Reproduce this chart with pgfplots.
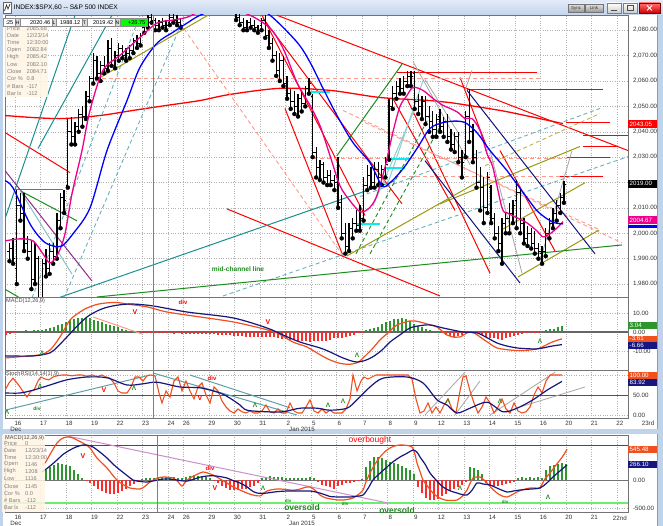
\documentclass[border=0pt]{standalone}
\usepackage{fontspec}
\setmainfont{Liberation Sans}
\usepackage{pgfplots}
\pgfplotsset{compat=1.18}
\usepackage{pgfplotstable}

\definecolor{winframe}{HTML}{BFD3EA}
\definecolor{titletop}{HTML}{E2EBF7}
\definecolor{titlebot}{HTML}{C3D5EC}
\definecolor{macdo}{HTML}{F0501E}
\definecolor{macdn}{HTML}{16167E}
\definecolor{histg}{HTML}{2E962E}
\definecolor{histr}{HTML}{FF2A2A}
\definecolor{tealc}{HTML}{1A9090}
\definecolor{tealdash}{HTML}{6AB2BA}
\definecolor{salmon}{HTML}{FF9A8A}
\definecolor{olivec}{HTML}{9A9A10}
\definecolor{navyc}{HTML}{12127F}
\definecolor{dgreen}{HTML}{1E8C1E}
\definecolor{purp}{HTML}{8E2A8E}
\definecolor{cursorc}{HTML}{7878B0}
\definecolor{infobg}{HTML}{FFF5E4}
\definecolor{oversold}{HTML}{6CEE6C}
\definecolor{cyanc}{HTML}{10E8F0}
\definecolor{lavender}{HTML}{CC8FCC}
\definecolor{paleteal}{HTML}{8CCFD0}

\newcommand\tf{\fontsize{6.2}{7}\selectfont}
\newcommand\smf{\fontsize{5.6}{6}\selectfont}
\newcommand\lam{\bfseries\fontsize{6.5}{6}\selectfont}
\def\daygrid{15,40.5,66,91.5,117,142.5,168,183.3,208.8,234.3,259.8,285.3,310.8,336.3,361.8,387.3,412.8,438.3,463.8,489.3,514.8,540.3,565.8,591.3,616.8}

\pgfplotsset{
  pane/.style={scale only axis, width=623pt, xmin=5, xmax=628, anchor=south west,
    clip mode=individual,
    axis line style={draw=black!55, line width=0.7pt},
    xtick=\daygrid, xticklabels={},
    grid=major, grid style={dotted, black!30, line width=0.5pt},
    major tick length=0pt, tick style={draw=none},
    extra y tick labels={}, extra y tick style={grid=major},
    yticklabel pos=right,
    yticklabel style={anchor=west, xshift=1.5pt, font=\tf, text=black!80},
    /pgf/number format/fixed, /pgf/number format/fixed zerofill,
    /pgf/number format/precision=2, /pgf/number format/assume math mode=true},
  datelabels/.style={xticklabel style={font=\tf, xshift=3pt, text=black!80}},
  tl/.style={line width=1pt, forget plot},
  dl/.style={line width=0.9pt, dash pattern=on 4pt off 3pt, forget plot},
}
\tikzset{vbox/.style={anchor=west, text=white, font=\tf, inner xsep=1.5pt, inner ysep=0pt, minimum height=7pt, text width=26pt}}

\pgfdeclareplotmark{otick}{\pgfpathmoveto{\pgfqpoint{-2.1pt}{0pt}}\pgfpathlineto{\pgfqpoint{0pt}{0pt}}\pgfusepathqstroke}
\pgfdeclareplotmark{ctick}{\pgfpathmoveto{\pgfqpoint{0pt}{0pt}}\pgfpathlineto{\pgfqpoint{2.1pt}{0pt}}\pgfusepathqstroke}

% hourly OHLC bars, x = time position
\pgfplotstableread[row sep=\\]{
x o h l c\\
9.5 1993 1996 1989 1994\\ 13.1 1994 1998 1988 1990\\
16.8 1986 2017 1980 2011\\ 20.4 2011 2016 2005 2008\\ 24.1 2008 2016 1993 1996\\ 27.7 1996 1999 1990 1993\\ 31.4 1993 1997 1978 1982\\ 35.0 1982 1996 1980 1990\\ 38.6 1990 1991 1972 1973\\
42.3 1974 1990 1973 1988\\ 45.9 1988 1994 1983 1986\\ 49.6 1986 1996 1984 1993\\ 53.2 1993 1996 1988 1991\\ 56.9 1991 2008 1990 2005\\ 60.5 2005 2016 2002 2014\\ 64.1 2014 2017 2008 2013\\
67.8 2019 2045 2018 2040\\ 71.4 2040 2046 2035 2038\\ 75.1 2038 2044 2035 2042\\ 78.7 2042 2049 2040 2047\\ 82.4 2047 2050 2042 2046\\ 86.0 2046 2056 2045 2054\\ 89.6 2054 2062 2052 2061\\
93.3 2061 2071 2059 2068\\ 96.9 2068 2070 2061 2063\\ 100.6 2063 2068 2060 2066\\ 104.2 2066 2070 2063 2065\\ 107.9 2065 2076 2064 2073\\ 111.5 2073 2077 2066 2068\\ 115.1 2068 2072 2065 2070\\
118.8 2070 2075 2068 2073\\ 122.4 2073 2074 2069 2070\\ 126.1 2070 2073 2068 2071\\ 129.7 2071 2074 2069 2072\\ 133.4 2072 2077 2071 2076\\ 137.0 2076 2078 2073 2075\\ 140.6 2075 2079 2074 2078\\
144.3 2081 2084 2079 2083\\ 147.9 2083 2086 2081 2085\\ 151.6 2085 2087 2083 2084\\ 155.2 2084 2085 2080 2082\\ 158.9 2082 2084 2080 2083\\ 162.5 2083 2085 2081 2082\\ 166.1 2082 2084 2080 2082\\
169.8 2083 2087 2082 2085\\ 173.4 2085 2087 2083 2084\\ 177.1 2084 2086 2082 2083\\ 180.7 2083 2085 2081 2082\\
185.1 2087 2090 2086.5 2089\\ 188.7 2089 2091 2087 2090\\ 192.4 2090 2092 2088 2091\\ 196.0 2091 2093 2089 2091\\ 199.7 2091 2092 2088 2090\\ 203.3 2090 2091 2088 2089\\ 206.9 2089 2090 2087 2089\\
210.6 2088 2090 2087 2089\\ 214.2 2089 2092 2088 2091\\ 217.9 2091 2093 2089 2092\\ 221.5 2092 2094 2090 2091\\ 225.2 2091 2092 2089 2090\\ 228.8 2090 2092 2089 2091\\ 232.4 2091 2092 2089 2091\\
236.1 2088 2089 2084 2085\\ 239.7 2085 2087 2082 2083\\ 243.4 2083 2085 2080 2081\\ 247.0 2081 2084 2080 2083\\ 250.7 2083 2085 2081 2082\\ 254.3 2082 2084 2080 2081\\ 257.9 2081 2082 2079 2080\\
261.6 2082 2085 2080 2084\\ 265.2 2084 2086 2077 2078\\ 268.9 2078 2080 2073 2075\\ 272.5 2075 2077 2068 2070\\ 276.2 2070 2072 2062 2064\\ 279.8 2064 2071 2060 2068\\ 283.4 2068 2070 2058 2059\\
287.1 2059 2062 2053 2055\\ 290.7 2055 2057 2049 2052\\ 294.4 2052 2056 2047 2050\\ 298.0 2050 2055 2046 2053\\ 301.7 2053 2056 2048 2051\\ 305.3 2051 2058 2050 2057\\ 308.9 2057 2061 2055 2059\\
312.6 2054 2055 2030 2032\\ 316.2 2032 2034 2022 2026\\ 319.9 2026 2029 2021 2027\\ 323.5 2027 2028 2020 2022\\ 327.2 2022 2025 2019 2023\\ 330.8 2023 2025 2019 2021\\ 334.4 2021 2023 2017 2020\\
338.1 2022 2030 2010 2012\\ 341.7 2012 2015 1998 2000\\ 345.4 2000 2004 1992 1995\\ 349.0 1995 2004 1993 2002\\ 352.7 2002 2006 1998 2004\\ 356.3 2004 2009 2001 2003\\ 359.9 2003 2011 2001 2006\\
363.6 2006 2022 2005 2019\\ 367.2 2019 2027 2017 2023\\ 370.9 2023 2026 2018 2020\\ 374.5 2020 2028 2018 2025\\ 378.2 2025 2028 2019 2022\\ 381.8 2022 2027 2019 2025\\ 385.4 2025 2030 2022 2027\\
389.1 2030 2053 2029 2050\\ 392.7 2050 2058 2049 2055\\ 396.4 2055 2060 2053 2058\\ 400.0 2058 2061 2055 2057\\ 403.7 2057 2062 2055 2060\\ 407.3 2060 2064 2058 2062\\ 410.9 2062 2064 2058 2062\\
414.6 2063 2064 2049 2052\\ 418.2 2052 2055 2047 2050\\ 421.9 2050 2054 2045 2052\\ 425.5 2052 2054 2043 2046\\ 429.2 2046 2050 2040 2044\\ 432.8 2044 2048 2038 2041\\ 436.4 2041 2047 2038 2045\\
440.1 2046 2049 2040 2042\\ 443.7 2042 2046 2038 2044\\ 447.4 2044 2047 2036 2038\\ 451.0 2038 2041 2033 2035\\ 454.7 2035 2040 2032 2038\\ 458.3 2038 2040 2028 2030\\ 461.9 2030 2033 2022 2028\\
465.6 2031 2048 2030 2046\\ 469.2 2046 2057 2036 2040\\ 472.9 2040 2043 2028 2030\\ 476.5 2030 2033 2018 2020\\ 480.2 2020 2026 2009 2018\\ 483.8 2018 2022 2004 2010\\ 487.4 2010 2024 2008 2022\\
491.1 2018 2019 2004 2006\\ 494.7 2006 2008 1998 2000\\ 498.4 2000 2003 1993 1996\\ 502.0 1996 2006 1988 2004\\ 505.7 2004 2008 2000 2006\\ 509.3 2006 2012 2000 2008\\ 512.9 2008 2013 2004 2011\\
516.6 2013 2021 2002 2016\\ 520.2 2016 2018 2000 2004\\ 523.9 2004 2006 1996 1998\\ 527.5 1998 2003 1995 2000\\ 531.2 2000 2002 1994 1996\\ 534.8 1996 2001 1992 1994\\ 538.4 1994 1996 1990 1993\\
542.1 1992 1995 1988 1993\\ 545.7 1993 2002 1991 2000\\ 549.4 2000 2006 1998 2004\\ 553.0 2004 2010 2002 2008\\ 556.7 2008 2013 2005 2011\\ 560.3 2011 2016 2008 2014\\ 563.9 2014 2020.5 2012 2019.4\\
}\bars

\pgfplotstableread[row sep=\\]{
x y\\
6 -1.5\\10 -1.2\\14 -0.5\\18 0.5\\22 0.6\\26 0.8\\30 0.6\\34 0.8\\38 1\\42 1\\46 1.5\\50 2.2\\54 2.8\\58 3.6\\62 4.4\\66 5.2\\70 6.2\\74 6.8\\78 7.5\\82 7.6\\86 7.4\\90 7.2\\94 6.4\\98 5.8\\102 5\\106 4.4\\110 3.6\\114 3\\118 2.4\\122 1.8\\126 1.2\\130 0.6\\134 0.2\\138 -0.3\\142 -0.5\\146 -0.6\\150 -0.6\\154 -0.7\\158 -0.6\\162 -0.8\\166 -0.8\\170 -0.7\\174 -0.9\\178 -0.8\\182 -1\\186 -1\\190 -0.9\\194 -1\\198 -1.1\\202 -1\\206 -1.2\\210 -1.2\\214 -1.3\\218 -1.4\\222 -1.5\\226 -1.6\\230 -1.8\\234 -2\\238 -2.1\\242 -2.2\\246 -2.4\\250 -2.5\\254 -2.6\\258 -2.4\\262 -2.6\\266 -2.8\\270 -2.6\\274 -2.9\\278 -3.2\\282 -3.5\\286 -3.8\\290 -4\\294 -4.4\\298 -4.6\\302 -4.8\\306 -5\\310 -5.2\\314 -5\\318 -4.8\\322 -5\\326 -4.6\\330 -4\\334 -3.4\\338 -3.2\\342 -3\\346 -2.6\\350 -2.2\\354 -1.4\\358 -0.8\\362 -0.2\\366 0.8\\370 1.6\\374 2.2\\378 2.8\\382 4\\386 5\\390 5.8\\394 6.6\\398 7\\402 7.2\\406 6.6\\410 5.6\\414 4\\418 3\\422 2.4\\426 1.6\\430 1\\434 0.6\\438 0.2\\442 -0.8\\446 -1.4\\450 -2\\454 -2.4\\458 -2.2\\462 -1.6\\466 -0.4\\470 0.3\\474 0.5\\478 -0.6\\482 -1.6\\486 -2.4\\490 -3\\494 -3.4\\498 -3.8\\502 -4\\506 -3.4\\510 -2.8\\514 -2\\518 -1.4\\522 -1\\526 -0.8\\530 -0.6\\534 -0.4\\538 -0.2\\542 0.3\\546 0.8\\550 1.4\\554 1.8\\558 2.4\\562 3\\
}\hup

\pgfplotstableread[row sep=\\]{
x y\\
46 180\\50 230\\54 270\\58 300\\62 290\\66 270\\70 240\\74 180\\78 110\\82 40\\86 -20\\90 -60\\94 -110\\98 -160\\102 -200\\106 -230\\110 -240\\114 -240\\118 -220\\122 -190\\126 -150\\130 -110\\134 -70\\138 -40\\142 20\\146 35\\150 40\\154 30\\158 50\\162 55\\166 50\\170 55\\174 45\\178 30\\182 40\\186 55\\190 70\\194 80\\198 75\\202 70\\206 60\\210 40\\214 -20\\218 -60\\222 -100\\226 -140\\230 -170\\234 -180\\238 -175\\242 -160\\246 -150\\250 -130\\254 -100\\258 -60\\262 40\\266 60\\270 65\\274 55\\278 60\\282 45\\286 40\\290 35\\294 40\\298 35\\302 30\\306 40\\310 55\\314 30\\318 -40\\322 -80\\326 -110\\330 -130\\334 -150\\338 -110\\342 -80\\346 -60\\350 -50\\354 -40\\358 -20\\362 20\\366 230\\370 330\\374 400\\378 400\\382 380\\386 350\\390 320\\394 300\\398 280\\402 250\\406 220\\410 180\\414 100\\418 -120\\422 -220\\426 -310\\430 -350\\434 -350\\438 -340\\442 -290\\446 -240\\450 -200\\454 -150\\458 -120\\462 -80\\466 -30\\470 230\\474 220\\478 180\\482 100\\486 -60\\490 -90\\494 -110\\498 -110\\502 -90\\506 -70\\510 -50\\514 -30\\518 40\\522 50\\526 40\\530 45\\534 40\\538 50\\542 30\\546 180\\550 250\\554 270\\558 290\\562 300\\566 290\\
}\hlo

\begin{document}
\begin{tikzpicture}
\begin{scope}[x=1pt,y=1pt]
% window chrome
\fill[winframe] (0,0) rectangle (663,526);
\shade[top color=titletop,bottom color=titlebot] (0,511) rectangle (663,526);
\fill[white,draw=black!60] (3,513) rectangle (11,524);
\draw[black!80,line width=0.7pt] (4.5,515)--(6.5,521)--(8,517)--(10,522);
\node[anchor=west,inner sep=0,font=\fontsize{6.6}{8}\selectfont] at (13.5,518.5) {INDEX:\$SPX,60 -{}- S\&P 500 INDEX};
\shade[top color=black!10,bottom color=black!40,draw=black!55] (568,514) rectangle (584,522);
\node[font=\fontsize{4.5}{5}\selectfont,inner sep=0,text=black!80] at (576,518) {Sync};
\shade[top color=black!10,bottom color=black!40,draw=black!55] (585,514) rectangle (603,522);
\node[font=\fontsize{4.5}{5}\selectfont,inner sep=0,text=black!80] at (594,518) {Link};
\shade[top color=white,bottom color=black!20,draw=black!50] (607,513) rectangle (621,523);
\draw[black!70,line width=0.8pt] (611,516)--(617,516);
\shade[top color=white,bottom color=black!20,draw=black!50] (623,513) rectangle (637,523);
\draw[black!70] (627,515.5) rectangle (633,520.5);
\shade[top color=red!55,bottom color=red!80!black,draw=red!50!black] (639,513) rectangle (660,523);
\draw[white,line width=1pt] (647,515.5)--(652,520.5) (647,520.5)--(652,515.5);
\fill[white] (3,97) rectangle (658,511);
\fill[white] (3,0) rectangle (658,92);
\end{scope}

% ---------------- price pane ----------------
\begin{axis}[pane, at={(5pt,229pt)}, height=282pt, ymin=1974.9, ymax=2086,
  ytick={1980,1990,2000,2010,2030,2040,2050,2060,2070,2080}, extra y ticks={2020}]
\addplot[red, line width=1.3pt, smooth, forget plot] coordinates {(5,2046.4)(33,2045.6)(63,2045.2)(100,2046.4)(133,2048.4)(167,2050.4)(200,2052.3)(230,2054.7)(280,2057.1)(330,2056.3)(380,2053.5)(430,2052.3)(450,2051.5)(500,2048.4)(530,2046.0)(563,2043.2)};
% trend lines
\addplot[tl, red] coordinates {(5,2039.7)(70,2023.9)};
\addplot[tl, red!80, line width=1.4pt] coordinates {(13,2017.2)(63,2017.2)};
\addplot[tl, red] coordinates {(227,2009.6)(440,1975.3)};
\addplot[tl, red] coordinates {(262,2085.9)(365,2007.0)};
\addplot[tl, red] coordinates {(263,2084.7)(402,2011.6)};
\addplot[tl, red] coordinates {(285,2049.2)(343,1991.1)};
\addplot[tl, red] coordinates {(277,2085.9)(628,2032.6)};
\addplot[tl, red] coordinates {(393,2053.0)(455,2009.0)};
\addplot[tl, red] coordinates {(407,2053.0)(490,1984.3)};
\addplot[tl, red] coordinates {(460,2061.4)(487,2033.8)};
\addplot[tl, red] coordinates {(500,2032.6)(555,1993.0)};
\addplot[tl, red] coordinates {(397,2063.4)(537,2063.4)};
\addplot[tl, red] coordinates {(467,2056.7)(603,2056.7)};
\addplot[tl, red] coordinates {(566,2043.6)(610,2043.6)};
\addplot[tl, red] coordinates {(583,2038.5)(628,2038.5)};
\addplot[tl, red] coordinates {(583,2034.2)(618,2034.2)};
\addplot[tl, red] coordinates {(567,2029.8)(610,2029.8)};
\addplot[tl, red] coordinates {(560,2022.3)(603,2022.3)};
\addplot[dl, salmon] coordinates {(95,2061.0)(540,2061.0)};
\addplot[dl, salmon] coordinates {(180,2082.8)(343,1991.1)};
\addplot[dl, salmon] coordinates {(313,2029.6)(567,2029.6)};
\addplot[dl, salmon] coordinates {(395,2022.3)(560,2022.3)};
\addplot[dl, salmon] coordinates {(343,2048.4)(622,1996.2)};
\addplot[dl, salmon] coordinates {(365,2043.6)(600,2001.3)};
\addplot[tl, tealc] coordinates {(5,2005.7)(75,2085.9)};
\addplot[tl, tealc] coordinates {(38,2033.4)(112,2085.9)};
\addplot[tl, tealc] coordinates {(58,1974.5)(395,2020.7)};
\addplot[dl, tealdash] coordinates {(223,1975.3)(628,2030.2)};
\addplot[dl, tealdash] coordinates {(360,2014.5)(600,2049.2)};
\addplot[dl, tealdash] coordinates {(32,1974.5)(140,2085.9)};
\addplot[dl, tealdash] coordinates {(64,1974.5)(185,2085.9)};
\addplot[tl, paleteal] coordinates {(373,2010.8)(415,2049.2)};
\addplot[tl, paleteal] coordinates {(388,2019.9)(423,2060.2)};
\addplot[tl, olivec] coordinates {(95,2060.2)(208,2085.9)};
\addplot[tl, olivec] coordinates {(347,1991.1)(480,2020.7)};
\addplot[tl, olivec] coordinates {(440,2011.6)(580,2034.2)};
\addplot[tl, olivec] coordinates {(503,2001.7)(585,2019.9)};
\addplot[tl, olivec] coordinates {(518,1982.8)(599,2001.3)};
\addplot[dl, olivec!70] coordinates {(485,2026.6)(600,2047.2)};
\addplot[tl, navyc] coordinates {(467,2056.3)(595,1991.9)};
\addplot[tl, navyc] coordinates {(425,2028.6)(520,1980.4)};
\addplot[tl, black!35, line width=0.8pt] coordinates {(465,2056.3)(472,2064.2)};
\addplot[tl, black!35, line width=0.8pt] coordinates {(490,2032.6)(522,1984.3)};
\addplot[tl, black!35, line width=0.8pt] coordinates {(540,1989.1)(572,2032.6)};
\addplot[tl, black!35, line width=0.8pt] coordinates {(413,2067.7)(470,2027.0)};
\addplot[tl, black!35, line width=0.8pt] coordinates {(425,2060.6)(460,2038.5)};
\addplot[tl, dgreen] coordinates {(97,1974.9)(622,1995.4)};
\addplot[tl, dgreen] coordinates {(20,2016.8)(77,2004.9)};
\addplot[tl, dgreen] coordinates {(3,1978.4)(20,1974.5)};
\addplot[tl, dgreen] coordinates {(337,2030.6)(402,2066.6)};
\addplot[dl, dgreen] coordinates {(356,1991.9)(430,2046.4)};
\addplot[dl, dgreen] coordinates {(370,1991.9)(440,2042.0)};
\addplot[tl, purp] coordinates {(5,2024.7)(92,1981.2)};
\addplot[tl, tealdash!80] coordinates {(20,2016.8)(72,1983.9)};
\addplot[tl, cyanc, line width=2pt] coordinates {(357,2003.7)(380,2003.7)};
\addplot[tl, cyanc, line width=2pt] coordinates {(387,2029.4)(410,2029.4)};
\addplot[tl, cyanc, line width=2pt] coordinates {(385,2025.8)(405,2025.8)};
\addplot[tl, cyanc, line width=2pt] coordinates {(308,2055.5)(330,2055.5)};
% OHLC bars
\addplot[only marks, mark=none, forget plot, error bars/.cd, y dir=plus, y explicit,
  error mark=none, error bar style={line width=1.3pt, draw=black, solid}]
  table[x=x, y=l, y error plus expr=\thisrow{h}-\thisrow{l}] {\bars};
\addplot[only marks, mark=otick, mark options={line width=0.8pt, black}, forget plot] table[x=x, y=o] {\bars};
\addplot[only marks, mark=ctick, mark options={line width=0.8pt, black}, forget plot] table[x=x, y=c] {\bars};
% moving averages
\addplot[magenta, line width=1.3pt, smooth, forget plot] coordinates {(5,1997.0)(20,1997.8)(33,1997.0)(43,1991.9)(50,1988.3)(58,1991.9)(65,1999.8)(72,2015.6)(82,2032.6)(90,2048.4)(103,2064.2)(120,2070.1)(140,2077.2)(157,2082.8)(173,2084.0)(187,2085.1)(200,2087.1)(230,2087.9)(250,2085.9)(270,2080.8)(283,2072.9)(297,2059.4)(310,2050.4)(320,2042.4)(330,2030.6)(340,2018.7)(350,2012.8)(360,2008.5)(368,2009.5)(376,2014.0)(385,2026.0)(393,2040.0)(400,2050.0)(407,2054.3)(413,2057.5)(423,2056.3)(433,2053.1)(443,2050.4)(450,2049.2)(458,2047.6)(465,2045.2)(472,2045.2)(480,2040.5)(487,2031.4)(493,2025.8)(502,2010.0)(507,2008.1)(517,2006.1)(527,2004.1)(537,2000.9)(543,1998.6)(550,1999.8)(557,2002.1)(563,2004.6)};
\addplot[blue, line width=1.3pt, smooth, forget plot] coordinates {(5,2020.7)(13,2017.9)(30,2003.7)(43,1997.0)(53,1995.0)(62,1995.0)(73,1999.8)(90,2010.0)(107,2032.6)(127,2052.3)(140,2065.4)(157,2074.9)(173,2079.2)(187,2082.8)(200,2085.9)(220,2088.7)(250,2089.5)(270,2085.9)(297,2075.3)(310,2067.4)(323,2057.1)(337,2046.4)(353,2035.7)(370,2027.8)(382,2018.7)(390,2019.9)(403,2025.4)(417,2033.4)(430,2041.3)(443,2043.6)(455,2044.2)(465,2043.6)(475,2040.5)(483,2036.5)(490,2032.6)(507,2024.7)(513,2021.5)(527,2014.0)(537,2008.9)(547,2005.7)(555,2004.1)(563,2003.7)};
\node[dgreen, font=\bfseries\fontsize{6.6}{7}\selectfont] at (axis cs:238,1985.9) {mid-channel line};
% value boxes
\node[vbox, fill=red, minimum height=8pt] at (axis cs:628,2043.05) {2043.05};
\node[vbox, fill=black, minimum height=8pt] at (axis cs:628,2019.6) {2019.00};
\node[vbox, fill=blue, minimum height=3pt] at (axis cs:628,2002.7) {};
\node[vbox, fill=magenta, minimum height=7.5pt] at (axis cs:628,2005.2) {2004.67};
\end{axis}

% ---------------- MACD pane ----------------
\begin{axis}[pane, at={(5pt,156pt)}, height=73pt, ymin=-20, ymax=18.4, ytick={-10,0,10}]
\draw[black!60, line width=1.3pt] (axis cs:5,0) -- (axis cs:628,0);
\addplot[ycomb, histg, line width=1.1pt, forget plot, y filter/.expression={y>0?y:nan}] table {\hup};
\addplot[ycomb, histr, line width=1.1pt, forget plot, y filter/.expression={y<0?y:nan}] table {\hup};
\addplot[tl, salmon] coordinates {(93,7.9)(142,-1.05)};
\addplot[macdo, line width=1.2pt, smooth, forget plot] coordinates {(5,-13.7)(20,-13)(40,-12)(50,-9.5)(60,-2.6)(70,6.3)(80,10.5)(87,12.6)(97,14.5)(107,15.3)(117,15.5)(127,14.7)(147,13.2)(167,10.5)(200,7.9)(233,5.3)(260,2.1)(277,-0.5)(293,-5.3)(307,-7.9)(320,-12)(330,-14.7)(340,-16.5)(350,-17)(358,-16)(363,-13.7)(372,-9)(380,-4.2)(390,0.5)(397,3.7)(410,5.8)(418,5.5)(427,4.2)(437,2.6)(447,-1.6)(455,-2.8)(460,-2.6)(467,-0.5)(470,0)(475,-0.8)(480,-2.6)(488,-5.5)(497,-8.4)(510,-9.5)(520,-9.8)(530,-9.5)(540,-8.4)(550,-5.8)(556,-4.6)(562,-3.6)};
\addplot[macdn, line width=1.2pt, smooth, forget plot] coordinates {(5,-12.6)(33,-12.6)(50,-11)(58,-7.5)(67,-2.6)(77,3)(87,7.9)(97,11)(107,13)(120,14.3)(133,14.7)(153,13.7)(187,10.5)(233,7.4)(267,2.1)(283,-1.6)(300,-5.3)(320,-8.4)(330,-10.5)(340,-13)(350,-15)(357,-15.8)(365,-15)(373,-13)(382,-9.5)(390,-5.3)(400,-1.5)(410,2.1)(420,3.3)(430,3.7)(443,2.1)(453,1)(463,0)(477,-0.5)(487,-3)(497,-5.8)(507,-7.4)(517,-8.4)(527,-8.8)(537,-8.9)(545,-8.2)(550,-7.6)(557,-7)(562,-6.66)};
\node[red, font=\bfseries\fontsize{7}{7}\selectfont] at (axis cs:135,10.5) {V};
\node[red, font=\bfseries\fontsize{6}{6}\selectfont] at (axis cs:183,15.8) {div};
\node[red, font=\bfseries\fontsize{7}{7}\selectfont] at (axis cs:268,5.3) {V};
\node[dgreen, font=\lam] at (axis cs:42,-11) {Λ};
\node[dgreen, font=\lam] at (axis cs:357,-12.1) {Λ};
\node[dgreen, font=\lam] at (axis cs:540,-4.7) {Λ};
\node[vbox, fill=histg] at (axis cs:628,3.4) {3.04};
\node[vbox, fill=macdo, minimum height=6.5pt] at (axis cs:628,-3.6) {-3.61};
\node[vbox, fill=macdn, minimum height=6.5pt] at (axis cs:628,-7.0) {-6.66};
\end{axis}

% ---------------- StochRSI pane ----------------
\begin{axis}[pane, datelabels, at={(5pt,108pt)}, height=48pt, ymin=-7.5, ymax=112.5, ytick={0,50}, extra y ticks={100},
  xticklabels={16,17,18,19,22,23,24,26,29,30,31,2,5,6,7,8,9,12,13,14,15,16,20,21,22}]
\draw[purp, line width=0.9pt] (axis cs:5,50) -- (axis cs:628,50);
\addplot[tl, tealdash!90!black] coordinates {(5,12)(150,100)};
\addplot[tl, tealdash!90!black] coordinates {(153,105)(297,0)};
\addplot[tl, tealdash!90!black] coordinates {(190,100)(290,18)};
\addplot[tl, black!35, line width=0.8pt] coordinates {(425,0)(465,107)};
\addplot[tl, black!35, line width=0.8pt] coordinates {(455,0)(480,85)};
\addplot[tl, black!35, line width=0.8pt] coordinates {(490,0)(555,107)};
\addplot[tl, black!35, line width=0.8pt] coordinates {(520,20)(585,70)};
\addplot[macdo, line width=1.1pt, forget plot] coordinates {(5,62)(9,80)(13,92)(17,80)(20,70)(24,55)(27,45)(31,60)(34,62)(38,85)(41,95)(45,90)(49,88)(53,95)(57,98)(62,100)(67,100)(72,98)(77,100)(82,100)(87,97)(92,100)(97,96)(102,100)(106,95)(110,92)(114,80)(118,60)(122,55)(127,55)(131,70)(135,95)(139,95)(143,85)(147,98)(151,100)(155,98)(159,55)(162,30)(166,60)(170,45)(174,85)(178,95)(182,60)(186,85)(190,60)(194,40)(198,70)(202,80)(206,50)(210,30)(214,70)(218,60)(222,35)(226,20)(230,10)(234,5)(238,15)(242,8)(246,5)(250,10)(254,5)(258,5)(262,10)(266,25)(270,8)(274,5)(278,15)(282,5)(286,5)(290,30)(294,10)(298,5)(302,5)(306,20)(310,38)(314,10)(318,5)(322,15)(326,5)(330,12)(334,5)(338,5)(342,5)(346,15)(350,40)(353,100)(357,60)(361,85)(364,95)(368,90)(372,95)(376,100)(380,100)(384,100)(388,100)(392,100)(396,100)(400,100)(404,100)(408,100)(412,90)(416,40)(420,5)(424,10)(428,30)(432,5)(436,20)(440,5)(444,25)(448,40)(452,15)(456,5)(460,60)(463,95)(466,98)(470,60)(474,30)(478,5)(482,20)(486,45)(490,30)(494,5)(498,20)(502,40)(506,15)(510,5)(514,30)(518,10)(522,5)(526,8)(530,20)(534,50)(538,70)(542,55)(546,85)(550,100)(554,100)(558,100)(562,100)};
\addplot[macdn, line width=1.2pt, smooth, forget plot] coordinates {(5,55)(20,55)(33,62)(50,75)(67,88)(87,95)(107,93)(127,75)(143,78)(157,82)(180,70)(200,68)(220,55)(230,42)(240,25)(247,12)(267,8)(283,8)(300,17)(317,17)(330,12)(347,17)(357,38)(370,70)(383,92)(407,95)(423,80)(437,38)(447,25)(457,5)(470,17)(487,32)(503,8)(517,17)(533,38)(547,62)(562,84)};
\node[dgreen, font=\lam] at (axis cs:40,72.5) {Λ};
\node[dgreen, font=\lam] at (axis cs:134,67.5) {Λ};
\node[dgreen, font=\lam] at (axis cs:7,7.5) {Λ};
\node[dgreen, font=\lam] at (axis cs:255,25) {Λ};
\node[dgreen, font=\lam] at (axis cs:328,25) {Λ};
\node[dgreen, font=\lam] at (axis cs:343,35) {Λ};
\node[dgreen, font=\lam] at (axis cs:448,35) {Λ};
\node[dgreen, font=\lam] at (axis cs:500,35) {Λ};
\node[red, font=\bfseries\fontsize{7}{7}\selectfont] at (axis cs:104,62.5) {V};
\node[red, font=\bfseries\fontsize{7}{7}\selectfont] at (axis cs:200,42.5) {V};
\node[red, font=\bfseries\fontsize{6}{6}\selectfont] at (axis cs:212,92.5) {div};
\node[dgreen, font=\bfseries\fontsize{5}{5}\selectfont] at (axis cs:37,15) {div};
\node[vbox, fill=macdo] at (axis cs:628,98.8) {100.00};
\node[vbox, fill=macdn] at (axis cs:628,81.2) {83.92};
\end{axis}

% ---------------- lower window MACD ----------------
\begin{axis}[pane, datelabels, at={(5pt,14pt)}, height=77pt, ymin=-563, ymax=792, ytick={-500,0},
  xticklabels={16,17,18,19,22,23,24,26,29,30,31,2,5,6,7,8,9,12,13,14,15,16,20,21,22nd}]
\draw[black!55, line width=0.8pt] (axis cs:5,0) -- (axis cs:628,0);
\draw[red, line width=1pt] (axis cs:5,600) -- (axis cs:628,600);
\draw[oversold, line width=2.2pt] (axis cs:5,-405) -- (axis cs:628,-405);
\addplot[ycomb, histg, line width=1.1pt, forget plot, y filter/.expression={y>0?y:nan}] table {\hlo};
\addplot[ycomb, histr, line width=1.1pt, forget plot, y filter/.expression={y<0?y:nan}] table {\hlo};
\addplot[tl, lavender] coordinates {(67,775)(388,-405)};
\addplot[macdo, line width=1.2pt, smooth, forget plot] coordinates {(42,280)(45,299)(51,480)(57,651)(62,730)(67,757)(72,745)(77,704)(84,640)(90,563)(97,387)(107,211)(112,100)(117,0)(123,-80)(130,-141)(140,-158)(145,-110)(150,-35)(157,30)(163,53)(173,35)(178,-30)(182,-106)(186,-20)(190,35)(197,100)(203,141)(208,120)(213,88)(220,20)(227,-53)(233,-120)(240,-176)(247,-230)(253,-264)(260,-280)(267,-194)(277,-158)(285,-165)(293,-180)(300,-160)(305,-130)(310,-123)(315,-180)(320,-264)(325,-310)(330,-330)(337,-350)(343,-352)(348,-340)(353,-317)(358,-260)(363,-176)(366,-30)(370,123)(375,280)(380,405)(385,500)(390,563)(395,600)(400,616)(406,610)(412,581)(415,450)(417,299)(420,150)(423,0)(428,-120)(433,-229)(439,-310)(445,-352)(451,-360)(457,-352)(462,-290)(467,-176)(470,-60)(473,35)(477,55)(480,53)(484,0)(487,-53)(492,-150)(497,-229)(502,-280)(507,-299)(512,-260)(517,-211)(523,-170)(530,-141)(535,-140)(540,-135)(545,20)(550,123)(555,240)(560,352)(564,450)(567,545)};
\addplot[macdn, line width=1.2pt, smooth, forget plot] coordinates {(42,140)(45,176)(51,260)(57,352)(63,450)(70,528)(76,580)(83,616)(88,610)(93,581)(100,490)(107,387)(113,280)(120,176)(127,80)(133,0)(140,-25)(147,-35)(155,-10)(160,10)(167,18)(175,5)(180,-10)(187,-18)(195,20)(200,50)(207,70)(213,75)(220,60)(227,35)(233,-10)(240,-53)(247,-120)(252,-190)(257,-229)(262,-235)(267,-229)(277,-205)(287,-194)(298,-194)(310,-194)(318,-220)(325,-260)(330,-290)(340,-300)(350,-299)(357,-285)(363,-264)(368,-150)(373,0)(380,120)(387,229)(393,320)(400,405)(407,470)(413,528)(417,490)(420,405)(425,280)(430,123)(436,0)(443,-123)(450,-190)(457,-229)(462,-255)(467,-264)(472,-180)(477,-53)(483,-70)(490,-88)(498,-150)(507,-211)(513,-195)(520,-176)(530,-160)(540,-141)(547,-50)(553,53)(560,160)(567,264)};
\node[red, font=\bfseries\fontsize{7}{7}\selectfont] at (axis cs:83,423) {V};
\node[red, font=\bfseries\fontsize{6}{6}\selectfont] at (axis cs:210,211) {div};
\node[red, font=\bfseries\fontsize{7}{7}\selectfont] at (axis cs:215,-141) {V};
\node[dgreen, font=\lam] at (axis cs:263,-141) {Λ};
\node[dgreen, font=\lam] at (axis cs:460,-141) {Λ};
\node[dgreen, font=\lam] at (axis cs:548,-299) {Λ};
\node[dgreen, font=\bfseries\fontsize{4.5}{5}\selectfont] at (axis cs:288,-370) {div};
\node[dgreen, font=\bfseries\fontsize{4.5}{5}\selectfont] at (axis cs:345,-423) {div};
\node[dgreen, font=\bfseries\fontsize{4.5}{5}\selectfont] at (axis cs:505,-387) {div};
\node[red, font=\fontsize{8.5}{9}\selectfont] at (axis cs:370,704) {overbought};
\node[dgreen, font=\bfseries\fontsize{8.5}{9}\selectfont] at (axis cs:302,-475) {oversold};
\node[dgreen, font=\bfseries\fontsize{8.5}{9}\selectfont] at (axis cs:397,-528) {oversold};
\node[vbox, fill=macdo] at (axis cs:628,545) {545.48};
\node[vbox, fill=macdn] at (axis cs:628,280) {266.10};
\end{axis}

\begin{scope}[x=1pt,y=1pt]
% cursor lines
\draw[cursorc, line width=0.9pt] (153,108) -- (153,511);
\draw[cursorc, line width=0.9pt] (157,14) -- (157,91);
\draw[black!40] (657.5,97) -- (657.5,511);
\draw[black!40] (657.5,0) -- (657.5,92);

% pane titles and extra axis text
\node[anchor=west, inner sep=0, font=\smf, text=black!70] at (6,225) {MACD(12,26,9)};
\node[anchor=west, inner sep=0, font=\smf, text=black!70] at (6,152) {StochRSI(14,14(1),9)};
\node[font=\tf, text=black!80] at (16,97) {Dec};
\node[font=\tf, text=black!80] at (302,97) {Jan 2015};
\node[font=\tf, text=black!80] at (648,103) {23rd};
\node[font=\tf, text=black!80] at (16,2.5) {Dec};
\node[font=\tf, text=black!80] at (302,3) {Jan 2015};

% upper info box
\fill[infobg, opacity=0.85] (5,429) rectangle (48,499);
\foreach \t/\v/\yy in {Price/2085.68/497,Date/12\slash 23\slash 14/490,Time/12:30:00/483,Open/2082.84/476,High/2085.42/469,Low/2082.10/461.5,Close/2084.71/454,Cor \%/0.8/447,\# Bars/-117/439.5,Bar lx/-112/432.5}{
  \node[anchor=west, inner sep=0, font=\smf, text=black!50] at (7,\yy) {\t};
  \node[anchor=west, inner sep=0, font=\smf, text=black!50] at (26.5,\yy) {\v};}
% toolbar
\foreach \a/\b/\t/\c in {3/15/:25/white,20/52/2020.46/white,56/82/1988.12/white,87/115/2019.42/white,120/147/+26.75/green}{
  \fill[\c,draw=black!45] (\a,499.5) rectangle (\b,508);
  \node[anchor=east, inner sep=0, font=\smf] at (\b-1.5,503.7) {\t};}
\foreach \a/\b/\t in {15/20/H,52/56/L,82/87/T,115/120/N}{
  \fill[black!15,draw=black!45] (\a,499.5) rectangle (\b,508);
  \node[inner sep=0, font=\fontsize{5}{5}\selectfont] at ({(\a+\b)/2},503.7) {\t};}

% lower info box
\fill[infobg, opacity=0.85] (2,14) rectangle (45,91);
\node[anchor=west, inner sep=0, font=\smf, text=black!70] at (5,88) {MACD(12,26,9)};
\foreach \t/\v/\yy in {Price/0/82.5,Date/12\slash 23\slash 14/75.5,Time/12:30:00/68.5,Open/1146/61.5,High/1208/54.5,Low/1116/47,Close/1145/39.5,Cor \%/0.0/32.5,\# Bars/-112/25,Bar lx/-112/18}{
  \node[anchor=west, inner sep=0, font=\smf, text=black!50] at (4,\yy) {\t};
  \node[anchor=west, inner sep=0, font=\smf, text=black!50] at (25,\yy) {\v};}
\end{scope}

\pgfresetboundingbox
\useasboundingbox (0pt,0pt) rectangle (663pt,526pt);
\end{tikzpicture}
\end{document}
